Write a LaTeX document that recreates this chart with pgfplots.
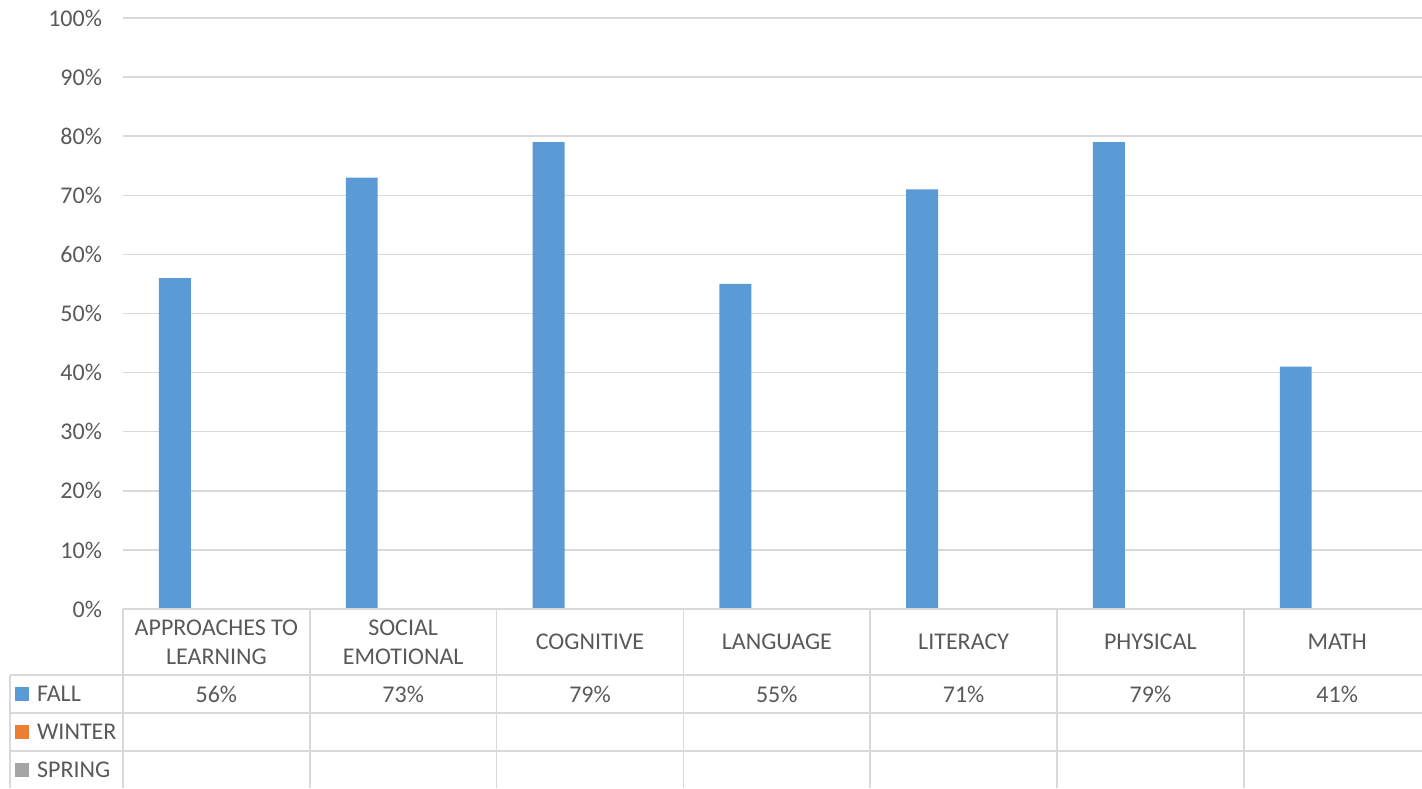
\documentclass[border=0pt]{standalone}
\usepackage{pgfplots}
\pgfplotsset{compat=1.18}
\usepackage{fontspec}
\setmainfont{Carlito}
\definecolor{txt}{HTML}{595959}
\definecolor{grd}{HTML}{D9D9D9}
\definecolor{fall}{HTML}{5B9BD5}
\definecolor{winter}{HTML}{ED7D31}
\definecolor{spring}{HTML}{A5A5A5}
\tikzset{tl/.style={grd, line width=0.75pt},
  tx/.style={text=txt, font=\fontsize{12}{14.5}\selectfont}}
\begin{document}
\begin{tikzpicture}
\begin{axis}[
  scale only axis,
  width=653.8pt, height=295.5pt,
  xmin=-0.5, xmax=6.5, ymin=0, ymax=100,
  clip=false,
  axis line style={draw=none},
  ytick={0,10,...,100},
  xtick=\empty,
  major tick length=0pt,
  ymajorgrids,
  grid style={grd, line width=0.75pt},
  yticklabel={\pgfmathprintnumber{\tick}\%},
  /pgf/number format/assume math mode=true,
  tick label style={font=\fontsize{12}{14}\selectfont, text=txt},
  y tick label style={xshift=-7pt},
]
\addplot[ybar, bar width=0.171, bar shift=-0.222, fill=fall, draw=none]
  coordinates {(0,56) (1,73) (2,79) (3,55) (4,71) (5,79) (6,41)};
% table lines
\draw[tl] (axis cs:-0.5,0) -- (axis cs:6.5,0);
\draw[tl] (axis cs:-1.105,-11.17) -- (axis cs:6.5,-11.17);
\draw[tl] (axis cs:-1.105,-17.60) -- (axis cs:6.5,-17.60);
\draw[tl] (axis cs:-1.105,-24.03) -- (axis cs:6.5,-24.03);
\pgfplotsinvokeforeach{-0.5,0.5,1.5,2.5,3.5,4.5,5.5,6.5}{
  \draw[tl] (axis cs:#1,0) -- (axis cs:#1,-30.29);
}
\draw[tl] (axis cs:-1.105,-11.17) -- (axis cs:-1.105,-30.29);
% header
\node[align=center, tx] at (axis cs:0,-5.55) {APPROACHES TO\\LEARNING};
\node[align=center, tx] at (axis cs:1,-5.55) {SOCIAL\\EMOTIONAL};
\node[tx] at (axis cs:2,-5.6) {COGNITIVE};
\node[tx] at (axis cs:3,-5.6) {LANGUAGE};
\node[tx] at (axis cs:4,-5.6) {LITERACY};
\node[tx] at (axis cs:5,-5.6) {PHYSICAL};
\node[tx] at (axis cs:6,-5.6) {MATH};
% values
\node[tx] at (axis cs:0,-14.38) {56\%};
\node[tx] at (axis cs:1,-14.38) {73\%};
\node[tx] at (axis cs:2,-14.38) {79\%};
\node[tx] at (axis cs:3,-14.38) {55\%};
\node[tx] at (axis cs:4,-14.38) {71\%};
\node[tx] at (axis cs:5,-14.38) {79\%};
\node[tx] at (axis cs:6,-14.38) {41\%};
% legend keys
\node[fill=fall, minimum size=6.6pt, inner sep=0pt] at (axis cs:-1.041,-14.38) {};
\node[anchor=west, inner sep=0pt, tx] at (axis cs:-0.962,-14.38) {FALL};
\node[fill=winter, minimum size=6.6pt, inner sep=0pt] at (axis cs:-1.041,-20.8) {};
\node[anchor=west, inner sep=0pt, tx] at (axis cs:-0.962,-20.8) {WINTER};
\node[fill=spring, minimum size=6.6pt, inner sep=0pt] at (axis cs:-1.041,-27.24) {};
\node[anchor=west, inner sep=0pt, tx] at (axis cs:-0.962,-27.24) {SPRING};
\coordinate (bl) at (axis cs:-1.1585,-30.29);
\coordinate (tr) at (axis cs:6.454,103.05);
\end{axis}
\pgfresetboundingbox
\useasboundingbox (bl) rectangle (tr);
\end{tikzpicture}
\end{document}
